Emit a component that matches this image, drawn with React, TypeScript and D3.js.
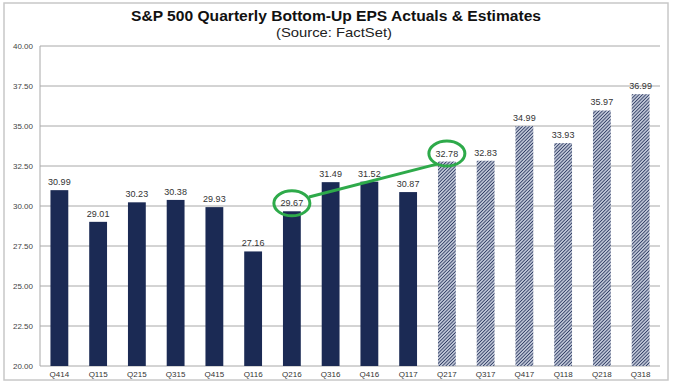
import React from "react";
import * as d3 from "d3";

const categories = ["Q414","Q115","Q215","Q315","Q415","Q116","Q216","Q316","Q416","Q117","Q217","Q317","Q417","Q118","Q218","Q318"];
const values = [30.99,29.01,30.23,30.38,29.93,27.16,29.67,31.49,31.52,30.87,32.78,32.83,34.99,33.93,35.97,36.99];
const isEstimate = [false,false,false,false,false,false,false,false,false,false,true,true,true,true,true,true];
const yTicks = [20,22.5,25,27.5,30,32.5,35,37.5,40];
const highlighted = ["Q216","Q217"];

export default function App() {
  const W = 673, H = 384;
  const left = 40, right = 660, top = 46, bottom = 366;
  const x = d3.scaleBand().domain(categories).range([left, right]).paddingInner(0.54).paddingOuter(0.27);
  const y = d3.scaleLinear().domain([20, 40]).range([bottom, top]);
  const navy = "#1b2a54";
  const green = "#2eaa4a";
  const labelY = (v: number) => y(v) - 5;
  const hc = highlighted.map(c => {
    const i = categories.indexOf(c);
    return { cx: (x(c) as number) + x.bandwidth() / 2, cy: labelY(values[i]) - 3 };
  });
  const rx = 18, ry = 12.5;
  const a = hc[0], b = hc[1];
  const p1 = { x: a.cx + rx * 0.95, y: a.cy - ry * 0.5 };
  const p2 = { x: b.cx - rx * 0.55, y: b.cy + ry * 0.85 };
  return (
    <svg width={W} height={H} style={{ position: "absolute", left: 0, top: 0 }} fontFamily="Arial, 'Liberation Sans', sans-serif">
      <defs>
        <pattern id="hatch" patternUnits="userSpaceOnUse" width="2.4" height="2.4" patternTransform="rotate(45)">
          <rect width="2.4" height="2.4" fill="#bcc3d4" />
          <line x1="0" y1="0" x2="0" y2="2.4" stroke={navy} strokeWidth="1.4" />
        </pattern>
      </defs>
      <rect x={0} y={0} width={W} height={H} fill="#fff" />
      <rect x={4} y={3} width={664} height={377} fill="none" stroke="#c8c8c8" strokeWidth={1.5} />
      <text x={336} y={21} textAnchor="middle" fontSize={14} fontWeight="bold" fill="#111" textLength={410} lengthAdjust="spacingAndGlyphs">S&amp;P 500 Quarterly  Bottom-Up  EPS Actuals &amp; Estimates</text>
      <text x={334} y={37} textAnchor="middle" fontSize={13} fill="#222" textLength={116} lengthAdjust="spacingAndGlyphs">(Source: FactSet)</text>
      {yTicks.map(t => (
        <g key={t}>
          <line x1={left} x2={right} y1={y(t)} y2={y(t)} stroke="#a8a8a8" strokeWidth={1} />
          <text x={33} y={y(t) + 3} textAnchor="end" fontSize={8} fill="#444">{t.toFixed(2)}</text>
        </g>
      ))}
      <line x1={left} x2={left} y1={top} y2={bottom} stroke="#a8a8a8" />
      {categories.map((c, i) => (
        <g key={c}>
          <rect x={x(c)} y={y(values[i])} width={x.bandwidth()} height={bottom - y(values[i])}
            fill={isEstimate[i] ? "url(#hatch)" : navy} />
          <text x={(x(c) as number) + x.bandwidth() / 2} y={labelY(values[i])} textAnchor="middle" fontSize={9} fill="#333">{values[i].toFixed(2)}</text>
          <text x={(x(c) as number) + x.bandwidth() / 2} y={bottom + 11} textAnchor="middle" fontSize={8} fill="#333">{c}</text>
        </g>
      ))}
      <line x1={p1.x} y1={p1.y} x2={p2.x} y2={p2.y} stroke={green} strokeWidth={3} />
      {hc.map((e, i) => (
        <ellipse key={i} cx={e.cx} cy={e.cy} rx={rx} ry={ry} fill="none" stroke={green} strokeWidth={3} />
      ))}
    </svg>
  );
}
